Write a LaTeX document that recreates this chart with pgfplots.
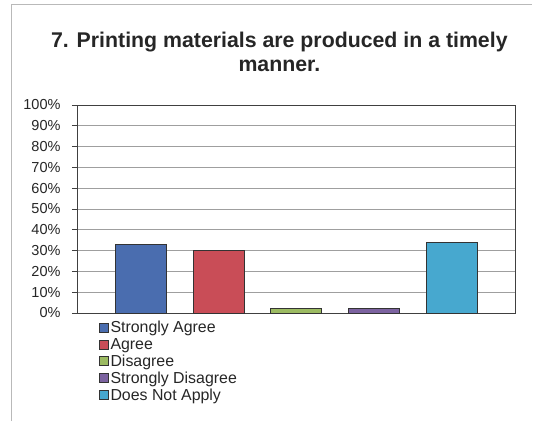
\documentclass[border=0pt]{standalone}
\usepackage{pgfplots}
\pgfplotsset{compat=1.18}
\usepackage{fontspec}
\setmainfont{Liberation Sans}
\definecolor{c1}{HTML}{4A6DAF}
\definecolor{c2}{HTML}{C94D57}
\definecolor{c3}{HTML}{9CBB62}
\definecolor{c4}{HTML}{7C63A0}
\definecolor{c5}{HTML}{47A8CF}
\begin{document}
\begin{tikzpicture}
\useasboundingbox (-77pt,-108pt) rectangle (459pt,313pt);
\draw[gray!55, line width=1pt] (-65pt,-108pt) -- (-65pt,308pt) -- (455pt,308pt);
\begin{axis}[
  scale only axis, width=438pt, height=208pt,
  ymin=0, ymax=100, ytick={0,10,...,100},
  yticklabel={\pgfmathprintnumber{\tick}\%},
  /pgf/number format/assume math mode=true,
  yticklabel style={font=\fontsize{14.5}{17}\selectfont, xshift=-8pt, text=black!85},
  xmin=-0.83, xmax=4.82, xtick=\empty,
  ytick pos=left, tick align=outside, major tick length=5pt,
  tick style={draw=black!75, line width=0.8pt},
  ymajorgrids, grid style={draw=gray!75, line width=0.7pt},
  axis line style={draw=black!75, line width=0.9pt},
  ybar, bar width=51pt, bar shift=0pt,
  title={7. Printing materials are produced in a timely\\manner.},
  title style={font=\bfseries\fontsize{21.3}{24}\selectfont, text=black!85, align=center, at={(0.462,1)}, anchor=south, inner sep=0pt, yshift=27pt},
  legend image code/.code={\draw[#1, line width=0.9pt] (0pt,-4.5pt) rectangle (9pt,4.5pt);},
  legend style={draw=none, fill=none, at={(0.05,-0.02)}, anchor=north west,
    font=\fontsize{15.9}{17}\selectfont, text=black!85, row sep=0pt, inner xsep=0pt,
    nodes={inner xsep=1.5pt}},
  legend cell align=left,
]
\addplot[fill=c1, draw=black!80, line width=0.8pt] coordinates {(0,33)};
\addplot[fill=c2, draw=black!80, line width=0.8pt] coordinates {(1,30)};
\addplot[fill=c3, draw=black!80, line width=0.8pt] coordinates {(2,2.3)};
\addplot[fill=c4, draw=black!80, line width=0.8pt] coordinates {(3,2.3)};
\addplot[fill=c5, draw=black!80, line width=0.8pt] coordinates {(4,34)};
\legend{Strongly Agree, Agree, Disagree, Strongly Disagree, Does Not Apply}
\end{axis}
\end{tikzpicture}
\end{document}
